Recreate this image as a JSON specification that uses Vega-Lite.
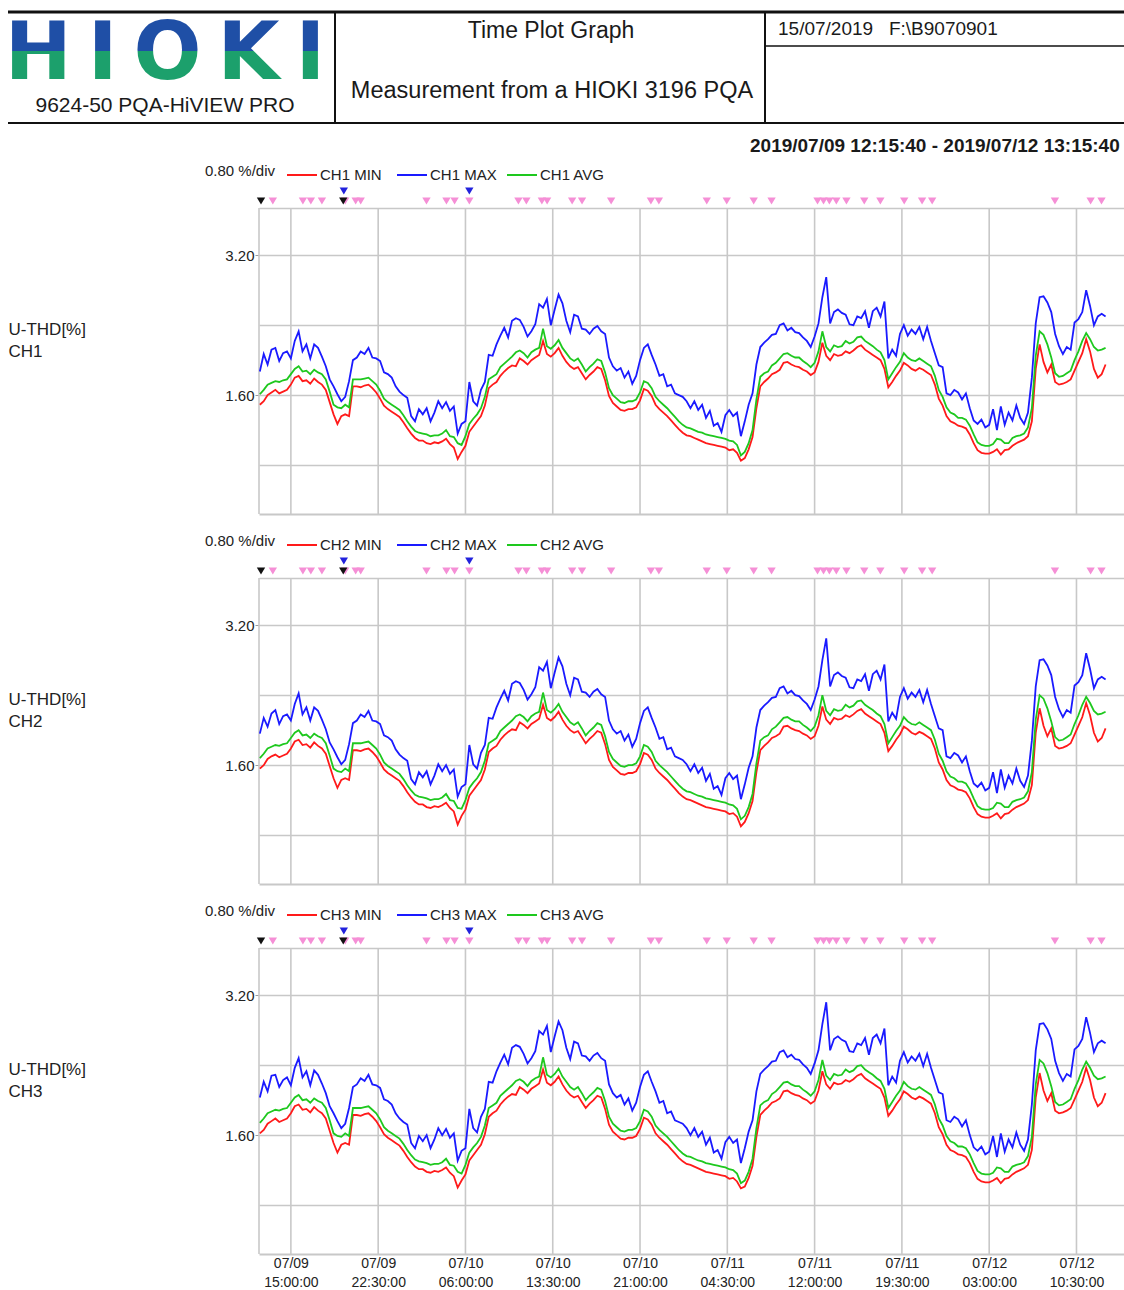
{
"$schema": "https://vega.github.io/schema/vega-lite/v6.json",
"padding": {"left": 4, "top": 0, "right": 0, "bottom": 0},
"background": "white",
"config": {"view": {"stroke": null}, "font": "Liberation Sans",
  "axis": {"labelFont": "Liberation Sans", "titleFont": "Liberation Sans"},
  "legend": {"labelFont": "Liberation Sans", "titleFont": "Liberation Sans"}},
"datasets": {
"grid": [{"t":"2019-07-09T12:15:40Z"},{"t":"2019-07-09T15:00Z"},{"t":"2019-07-09T22:30Z"},{"t":"2019-07-10T06:00Z"},{"t":"2019-07-10T13:30Z"},{"t":"2019-07-10T21:00Z"},{"t":"2019-07-11T04:30Z"},{"t":"2019-07-11T12:00Z"},{"t":"2019-07-11T19:30Z"},{"t":"2019-07-12T03:00Z"},{"t":"2019-07-12T10:30Z"}],
"ev": [
{"t":"2019-07-09T12:26Z","lane":"main","kind":"black"},{"t":"2019-07-09T13:27Z","lane":"main","kind":"pink"},{"t":"2019-07-09T16:02Z","lane":"main","kind":"pink"},{"t":"2019-07-09T16:43Z","lane":"main","kind":"pink"},{"t":"2019-07-09T17:40Z","lane":"main","kind":"pink"},{"t":"2019-07-09T19:40Z","lane":"main","kind":"pink"},{"t":"2019-07-09T19:30Z","lane":"main","kind":"black"},{"t":"2019-07-09T19:33Z","lane":"upper","kind":"blue"},{"t":"2019-07-09T20:34Z","lane":"main","kind":"pink"},{"t":"2019-07-09T21:00Z","lane":"main","kind":"pink"},
{"t":"2019-07-10T02:39Z","lane":"main","kind":"pink"},{"t":"2019-07-10T04:22Z","lane":"main","kind":"pink"},{"t":"2019-07-10T05:04Z","lane":"main","kind":"pink"},{"t":"2019-07-10T06:20Z","lane":"main","kind":"pink"},{"t":"2019-07-10T06:20Z","lane":"upper","kind":"blue"},{"t":"2019-07-10T10:33Z","lane":"main","kind":"pink"},{"t":"2019-07-10T11:14Z","lane":"main","kind":"pink"},{"t":"2019-07-10T12:34Z","lane":"main","kind":"pink"},{"t":"2019-07-10T13:01Z","lane":"main","kind":"pink"},{"t":"2019-07-10T15:10Z","lane":"main","kind":"pink"},{"t":"2019-07-10T16:01Z","lane":"main","kind":"pink"},{"t":"2019-07-10T18:31Z","lane":"main","kind":"pink"},{"t":"2019-07-10T21:56Z","lane":"main","kind":"pink"},{"t":"2019-07-10T22:37Z","lane":"main","kind":"pink"},
{"t":"2019-07-11T02:44Z","lane":"main","kind":"pink"},{"t":"2019-07-11T04:27Z","lane":"main","kind":"pink"},{"t":"2019-07-11T06:46Z","lane":"main","kind":"pink"},{"t":"2019-07-11T08:18Z","lane":"main","kind":"pink"},{"t":"2019-07-11T12:15Z","lane":"main","kind":"pink"},{"t":"2019-07-11T12:46Z","lane":"main","kind":"pink"},{"t":"2019-07-11T13:16Z","lane":"main","kind":"pink"},{"t":"2019-07-11T13:52Z","lane":"main","kind":"pink"},{"t":"2019-07-11T14:44Z","lane":"main","kind":"pink"},{"t":"2019-07-11T16:16Z","lane":"main","kind":"pink"},{"t":"2019-07-11T17:39Z","lane":"main","kind":"pink"},{"t":"2019-07-11T19:42Z","lane":"main","kind":"pink"},{"t":"2019-07-11T21:14Z","lane":"main","kind":"pink"},{"t":"2019-07-11T22:06Z","lane":"main","kind":"pink"},
{"t":"2019-07-12T08:39Z","lane":"main","kind":"pink"},{"t":"2019-07-12T11:43Z","lane":"main","kind":"pink"},{"t":"2019-07-12T12:39Z","lane":"main","kind":"pink"}],
"pq": [
{"t":"2019-07-09T12:20Z","n1":1.49,"x1":1.87,"a1":1.61,"n2":1.56,"x2":1.96,"a2":1.68,"n3":1.62,"x3":2.03,"a3":1.74},
{"t":"2019-07-09T12:40Z","n1":1.53,"x1":2.07,"a1":1.66,"n2":1.60,"x2":2.14,"a2":1.73,"n3":1.66,"x3":2.21,"a3":1.79},
{"t":"2019-07-09T13:00Z","n1":1.60,"x1":1.95,"a1":1.72,"n2":1.67,"x2":2.04,"a2":1.79,"n3":1.73,"x3":2.10,"a3":1.85},
{"t":"2019-07-09T13:20Z","n1":1.63,"x1":2.12,"a1":1.74,"n2":1.70,"x2":2.19,"a2":1.81,"n3":1.76,"x3":2.28,"a3":1.87},
{"t":"2019-07-09T13:40Z","n1":1.66,"x1":2.14,"a1":1.76,"n2":1.72,"x2":2.23,"a2":1.83,"n3":1.79,"x3":2.29,"a3":1.89},
{"t":"2019-07-09T14:00Z","n1":1.62,"x1":1.99,"a1":1.75,"n2":1.69,"x2":2.07,"a2":1.82,"n3":1.75,"x3":2.15,"a3":1.88},
{"t":"2019-07-09T14:20Z","n1":1.64,"x1":2.08,"a1":1.77,"n2":1.71,"x2":2.16,"a2":1.84,"n3":1.77,"x3":2.23,"a3":1.90},
{"t":"2019-07-09T14:40Z","n1":1.66,"x1":2.10,"a1":1.78,"n2":1.73,"x2":2.18,"a2":1.85,"n3":1.79,"x3":2.26,"a3":1.91},
{"t":"2019-07-09T15:00Z","n1":1.72,"x1":2.02,"a1":1.84,"n2":1.79,"x2":2.11,"a2":1.91,"n3":1.85,"x3":2.17,"a3":1.97},
{"t":"2019-07-09T15:20Z","n1":1.80,"x1":2.22,"a1":1.90,"n2":1.87,"x2":2.30,"a2":1.97,"n3":1.93,"x3":2.37,"a3":2.03},
{"t":"2019-07-09T15:40Z","n1":1.82,"x1":2.33,"a1":1.93,"n2":1.89,"x2":2.42,"a2":2.00,"n3":1.95,"x3":2.48,"a3":2.06},
{"t":"2019-07-09T16:00Z","n1":1.76,"x1":2.10,"a1":1.87,"n2":1.83,"x2":2.18,"a2":1.94,"n3":1.89,"x3":2.26,"a3":2.00},
{"t":"2019-07-09T16:20Z","n1":1.77,"x1":2.18,"a1":1.88,"n2":1.84,"x2":2.26,"a2":1.95,"n3":1.90,"x3":2.33,"a3":2.01},
{"t":"2019-07-09T16:40Z","n1":1.73,"x1":2.02,"a1":1.84,"n2":1.80,"x2":2.11,"a2":1.91,"n3":1.86,"x3":2.17,"a3":1.97},
{"t":"2019-07-09T17:00Z","n1":1.79,"x1":2.18,"a1":1.89,"n2":1.86,"x2":2.26,"a2":1.96,"n3":1.92,"x3":2.34,"a3":2.02},
{"t":"2019-07-09T17:20Z","n1":1.75,"x1":2.14,"a1":1.86,"n2":1.82,"x2":2.22,"a2":1.93,"n3":1.88,"x3":2.29,"a3":1.99},
{"t":"2019-07-09T17:40Z","n1":1.72,"x1":2.04,"a1":1.84,"n2":1.79,"x2":2.12,"a2":1.91,"n3":1.85,"x3":2.19,"a3":1.97},
{"t":"2019-07-09T18:00Z","n1":1.66,"x1":1.93,"a1":1.78,"n2":1.73,"x2":2.01,"a2":1.85,"n3":1.79,"x3":2.08,"a3":1.91},
{"t":"2019-07-09T18:20Z","n1":1.52,"x1":1.78,"a1":1.64,"n2":1.59,"x2":1.86,"a2":1.71,"n3":1.65,"x3":1.93,"a3":1.77},
{"t":"2019-07-09T18:40Z","n1":1.38,"x1":1.70,"a1":1.49,"n2":1.45,"x2":1.78,"a2":1.56,"n3":1.51,"x3":1.85,"a3":1.62},
{"t":"2019-07-09T19:00Z","n1":1.27,"x1":1.61,"a1":1.46,"n2":1.34,"x2":1.69,"a2":1.53,"n3":1.40,"x3":1.76,"a3":1.59},
{"t":"2019-07-09T19:20Z","n1":1.36,"x1":1.53,"a1":1.45,"n2":1.43,"x2":1.61,"a2":1.52,"n3":1.49,"x3":1.68,"a3":1.58},
{"t":"2019-07-09T19:40Z","n1":1.38,"x1":1.58,"a1":1.49,"n2":1.45,"x2":1.66,"a2":1.56,"n3":1.51,"x3":1.73,"a3":1.62},
{"t":"2019-07-09T20:00Z","n1":1.36,"x1":1.76,"a1":1.46,"n2":1.43,"x2":1.84,"a2":1.53,"n3":1.49,"x3":1.91,"a3":1.59},
{"t":"2019-07-09T20:20Z","n1":1.70,"x1":2.00,"a1":1.78,"n2":1.77,"x2":2.08,"a2":1.85,"n3":1.83,"x3":2.15,"a3":1.91},
{"t":"2019-07-09T20:40Z","n1":1.70,"x1":2.03,"a1":1.78,"n2":1.77,"x2":2.11,"a2":1.85,"n3":1.83,"x3":2.18,"a3":1.91},
{"t":"2019-07-09T21:00Z","n1":1.69,"x1":2.10,"a1":1.78,"n2":1.76,"x2":2.18,"a2":1.85,"n3":1.82,"x3":2.25,"a3":1.91},
{"t":"2019-07-09T21:20Z","n1":1.71,"x1":2.07,"a1":1.79,"n2":1.78,"x2":2.15,"a2":1.86,"n3":1.84,"x3":2.22,"a3":1.92},
{"t":"2019-07-09T21:40Z","n1":1.72,"x1":2.14,"a1":1.80,"n2":1.79,"x2":2.22,"a2":1.87,"n3":1.85,"x3":2.29,"a3":1.93},
{"t":"2019-07-09T22:00Z","n1":1.68,"x1":2.03,"a1":1.76,"n2":1.75,"x2":2.11,"a2":1.83,"n3":1.81,"x3":2.18,"a3":1.89},
{"t":"2019-07-09T22:20Z","n1":1.63,"x1":2.02,"a1":1.72,"n2":1.70,"x2":2.10,"a2":1.79,"n3":1.76,"x3":2.17,"a3":1.85},
{"t":"2019-07-09T22:40Z","n1":1.56,"x1":1.99,"a1":1.65,"n2":1.63,"x2":2.07,"a2":1.72,"n3":1.69,"x3":2.14,"a3":1.78},
{"t":"2019-07-09T23:00Z","n1":1.48,"x1":1.86,"a1":1.56,"n2":1.55,"x2":1.94,"a2":1.63,"n3":1.61,"x3":2.01,"a3":1.69},
{"t":"2019-07-09T23:20Z","n1":1.44,"x1":1.84,"a1":1.52,"n2":1.51,"x2":1.92,"a2":1.59,"n3":1.57,"x3":1.99,"a3":1.65},
{"t":"2019-07-09T23:40Z","n1":1.41,"x1":1.80,"a1":1.49,"n2":1.48,"x2":1.88,"a2":1.56,"n3":1.54,"x3":1.95,"a3":1.62},
{"t":"2019-07-10T00:00Z","n1":1.38,"x1":1.70,"a1":1.46,"n2":1.45,"x2":1.78,"a2":1.53,"n3":1.51,"x3":1.85,"a3":1.59},
{"t":"2019-07-10T00:20Z","n1":1.35,"x1":1.64,"a1":1.43,"n2":1.42,"x2":1.72,"a2":1.50,"n3":1.48,"x3":1.79,"a3":1.56},
{"t":"2019-07-10T00:40Z","n1":1.29,"x1":1.60,"a1":1.37,"n2":1.36,"x2":1.68,"a2":1.44,"n3":1.42,"x3":1.75,"a3":1.50},
{"t":"2019-07-10T01:00Z","n1":1.22,"x1":1.57,"a1":1.30,"n2":1.29,"x2":1.65,"a2":1.37,"n3":1.35,"x3":1.72,"a3":1.43},
{"t":"2019-07-10T01:20Z","n1":1.16,"x1":1.36,"a1":1.24,"n2":1.23,"x2":1.44,"a2":1.31,"n3":1.29,"x3":1.51,"a3":1.37},
{"t":"2019-07-10T01:40Z","n1":1.11,"x1":1.30,"a1":1.19,"n2":1.18,"x2":1.38,"a2":1.26,"n3":1.24,"x3":1.45,"a3":1.32},
{"t":"2019-07-10T02:00Z","n1":1.08,"x1":1.44,"a1":1.17,"n2":1.15,"x2":1.52,"a2":1.24,"n3":1.21,"x3":1.59,"a3":1.30},
{"t":"2019-07-10T02:20Z","n1":1.08,"x1":1.38,"a1":1.16,"n2":1.15,"x2":1.46,"a2":1.23,"n3":1.21,"x3":1.53,"a3":1.29},
{"t":"2019-07-10T02:40Z","n1":1.05,"x1":1.45,"a1":1.15,"n2":1.12,"x2":1.53,"a2":1.22,"n3":1.18,"x3":1.60,"a3":1.28},
{"t":"2019-07-10T03:00Z","n1":1.04,"x1":1.30,"a1":1.13,"n2":1.11,"x2":1.38,"a2":1.20,"n3":1.17,"x3":1.45,"a3":1.26},
{"t":"2019-07-10T03:20Z","n1":1.06,"x1":1.40,"a1":1.14,"n2":1.13,"x2":1.48,"a2":1.21,"n3":1.19,"x3":1.55,"a3":1.27},
{"t":"2019-07-10T03:40Z","n1":1.05,"x1":1.53,"a1":1.14,"n2":1.12,"x2":1.61,"a2":1.21,"n3":1.18,"x3":1.68,"a3":1.27},
{"t":"2019-07-10T04:00Z","n1":1.07,"x1":1.45,"a1":1.16,"n2":1.14,"x2":1.53,"a2":1.23,"n3":1.20,"x3":1.60,"a3":1.29},
{"t":"2019-07-10T04:20Z","n1":1.10,"x1":1.52,"a1":1.20,"n2":1.17,"x2":1.60,"a2":1.27,"n3":1.23,"x3":1.67,"a3":1.33},
{"t":"2019-07-10T04:40Z","n1":1.04,"x1":1.42,"a1":1.13,"n2":1.11,"x2":1.50,"a2":1.20,"n3":1.17,"x3":1.57,"a3":1.26},
{"t":"2019-07-10T05:00Z","n1":1.00,"x1":1.47,"a1":1.12,"n2":1.07,"x2":1.55,"a2":1.19,"n3":1.13,"x3":1.62,"a3":1.25},
{"t":"2019-07-10T05:20Z","n1":0.87,"x1":1.16,"a1":1.05,"n2":0.92,"x2":1.24,"a2":1.11,"n3":1.00,"x3":1.31,"a3":1.18},
{"t":"2019-07-10T05:40Z","n1":0.95,"x1":1.27,"a1":1.03,"n2":1.02,"x2":1.35,"a2":1.10,"n3":1.08,"x3":1.42,"a3":1.16},
{"t":"2019-07-10T06:00Z","n1":1.02,"x1":1.30,"a1":1.13,"n2":1.09,"x2":1.38,"a2":1.20,"n3":1.15,"x3":1.45,"a3":1.26},
{"t":"2019-07-10T06:20Z","n1":1.18,"x1":1.75,"a1":1.27,"n2":1.25,"x2":1.83,"a2":1.34,"n3":1.31,"x3":1.90,"a3":1.40},
{"t":"2019-07-10T06:40Z","n1":1.24,"x1":1.53,"a1":1.33,"n2":1.31,"x2":1.61,"a2":1.40,"n3":1.37,"x3":1.68,"a3":1.46},
{"t":"2019-07-10T07:00Z","n1":1.30,"x1":1.48,"a1":1.38,"n2":1.37,"x2":1.56,"a2":1.45,"n3":1.43,"x3":1.63,"a3":1.51},
{"t":"2019-07-10T07:20Z","n1":1.36,"x1":1.66,"a1":1.45,"n2":1.43,"x2":1.74,"a2":1.52,"n3":1.49,"x3":1.81,"a3":1.58},
{"t":"2019-07-10T07:40Z","n1":1.48,"x1":1.75,"a1":1.58,"n2":1.55,"x2":1.83,"a2":1.65,"n3":1.61,"x3":1.90,"a3":1.71},
{"t":"2019-07-10T08:00Z","n1":1.68,"x1":2.06,"a1":1.78,"n2":1.75,"x2":2.14,"a2":1.85,"n3":1.81,"x3":2.21,"a3":1.91},
{"t":"2019-07-10T08:20Z","n1":1.72,"x1":2.05,"a1":1.81,"n2":1.79,"x2":2.13,"a2":1.88,"n3":1.85,"x3":2.20,"a3":1.94},
{"t":"2019-07-10T08:40Z","n1":1.75,"x1":2.18,"a1":1.84,"n2":1.82,"x2":2.26,"a2":1.91,"n3":1.88,"x3":2.33,"a3":1.97},
{"t":"2019-07-10T09:00Z","n1":1.82,"x1":2.28,"a1":1.92,"n2":1.89,"x2":2.36,"a2":1.99,"n3":1.95,"x3":2.43,"a3":2.05},
{"t":"2019-07-10T09:20Z","n1":1.87,"x1":2.37,"a1":1.96,"n2":1.94,"x2":2.45,"a2":2.03,"n3":2.00,"x3":2.52,"a3":2.09},
{"t":"2019-07-10T09:40Z","n1":1.91,"x1":2.26,"a1":2.00,"n2":1.98,"x2":2.34,"a2":2.07,"n3":2.04,"x3":2.41,"a3":2.13},
{"t":"2019-07-10T10:00Z","n1":1.94,"x1":2.45,"a1":2.04,"n2":2.01,"x2":2.53,"a2":2.11,"n3":2.07,"x3":2.60,"a3":2.17},
{"t":"2019-07-10T10:20Z","n1":1.93,"x1":2.48,"a1":2.09,"n2":2.00,"x2":2.56,"a2":2.16,"n3":2.06,"x3":2.63,"a3":2.22},
{"t":"2019-07-10T10:40Z","n1":2.02,"x1":2.46,"a1":2.11,"n2":2.09,"x2":2.54,"a2":2.18,"n3":2.15,"x3":2.61,"a3":2.24},
{"t":"2019-07-10T11:00Z","n1":1.99,"x1":2.38,"a1":2.08,"n2":2.06,"x2":2.46,"a2":2.15,"n3":2.12,"x3":2.53,"a3":2.21},
{"t":"2019-07-10T11:20Z","n1":1.95,"x1":2.27,"a1":2.03,"n2":2.02,"x2":2.35,"a2":2.10,"n3":2.08,"x3":2.42,"a3":2.16},
{"t":"2019-07-10T11:40Z","n1":2.00,"x1":2.33,"a1":2.09,"n2":2.07,"x2":2.41,"a2":2.16,"n3":2.13,"x3":2.48,"a3":2.22},
{"t":"2019-07-10T12:00Z","n1":2.03,"x1":2.41,"a1":2.12,"n2":2.10,"x2":2.49,"a2":2.19,"n3":2.16,"x3":2.56,"a3":2.25},
{"t":"2019-07-10T12:20Z","n1":2.06,"x1":2.64,"a1":2.14,"n2":2.13,"x2":2.72,"a2":2.21,"n3":2.19,"x3":2.79,"a3":2.27},
{"t":"2019-07-10T12:40Z","n1":2.22,"x1":2.60,"a1":2.36,"n2":2.29,"x2":2.68,"a2":2.43,"n3":2.35,"x3":2.75,"a3":2.49},
{"t":"2019-07-10T13:00Z","n1":2.07,"x1":2.70,"a1":2.16,"n2":2.14,"x2":2.78,"a2":2.23,"n3":2.20,"x3":2.85,"a3":2.29},
{"t":"2019-07-10T13:20Z","n1":2.04,"x1":2.40,"a1":2.13,"n2":2.11,"x2":2.48,"a2":2.20,"n3":2.17,"x3":2.55,"a3":2.26},
{"t":"2019-07-10T13:40Z","n1":2.08,"x1":2.58,"a1":2.17,"n2":2.15,"x2":2.66,"a2":2.24,"n3":2.21,"x3":2.73,"a3":2.30},
{"t":"2019-07-10T14:00Z","n1":2.14,"x1":2.75,"a1":2.23,"n2":2.21,"x2":2.83,"a2":2.30,"n3":2.27,"x3":2.90,"a3":2.36},
{"t":"2019-07-10T14:20Z","n1":2.05,"x1":2.65,"a1":2.14,"n2":2.12,"x2":2.73,"a2":2.21,"n3":2.18,"x3":2.80,"a3":2.27},
{"t":"2019-07-10T14:40Z","n1":1.98,"x1":2.45,"a1":2.08,"n2":2.05,"x2":2.53,"a2":2.15,"n3":2.11,"x3":2.60,"a3":2.21},
{"t":"2019-07-10T15:00Z","n1":1.93,"x1":2.32,"a1":2.02,"n2":2.00,"x2":2.40,"a2":2.09,"n3":2.06,"x3":2.47,"a3":2.15},
{"t":"2019-07-10T15:20Z","n1":1.90,"x1":2.52,"a1":1.99,"n2":1.97,"x2":2.60,"a2":2.06,"n3":2.03,"x3":2.67,"a3":2.12},
{"t":"2019-07-10T15:40Z","n1":1.92,"x1":2.50,"a1":2.02,"n2":1.99,"x2":2.58,"a2":2.09,"n3":2.05,"x3":2.65,"a3":2.15},
{"t":"2019-07-10T16:00Z","n1":1.85,"x1":2.36,"a1":1.95,"n2":1.92,"x2":2.44,"a2":2.02,"n3":1.98,"x3":2.51,"a3":2.08},
{"t":"2019-07-10T16:20Z","n1":1.78,"x1":2.35,"a1":1.87,"n2":1.85,"x2":2.43,"a2":1.94,"n3":1.91,"x3":2.50,"a3":2.00},
{"t":"2019-07-10T16:40Z","n1":1.83,"x1":2.30,"a1":1.92,"n2":1.90,"x2":2.38,"a2":1.99,"n3":1.96,"x3":2.45,"a3":2.05},
{"t":"2019-07-10T17:00Z","n1":1.87,"x1":2.36,"a1":1.96,"n2":1.94,"x2":2.44,"a2":2.03,"n3":2.00,"x3":2.51,"a3":2.09},
{"t":"2019-07-10T17:20Z","n1":1.92,"x1":2.39,"a1":2.01,"n2":1.99,"x2":2.47,"a2":2.08,"n3":2.05,"x3":2.54,"a3":2.14},
{"t":"2019-07-10T17:40Z","n1":1.90,"x1":2.33,"a1":1.99,"n2":1.97,"x2":2.41,"a2":2.06,"n3":2.03,"x3":2.48,"a3":2.12},
{"t":"2019-07-10T18:00Z","n1":1.77,"x1":2.30,"a1":1.86,"n2":1.84,"x2":2.38,"a2":1.93,"n3":1.90,"x3":2.45,"a3":1.99},
{"t":"2019-07-10T18:20Z","n1":1.59,"x1":2.03,"a1":1.68,"n2":1.66,"x2":2.11,"a2":1.75,"n3":1.72,"x3":2.18,"a3":1.81},
{"t":"2019-07-10T18:40Z","n1":1.51,"x1":1.93,"a1":1.60,"n2":1.58,"x2":2.01,"a2":1.67,"n3":1.64,"x3":2.08,"a3":1.73},
{"t":"2019-07-10T19:00Z","n1":1.47,"x1":1.88,"a1":1.56,"n2":1.54,"x2":1.96,"a2":1.63,"n3":1.60,"x3":2.03,"a3":1.69},
{"t":"2019-07-10T19:20Z","n1":1.43,"x1":1.91,"a1":1.52,"n2":1.50,"x2":1.99,"a2":1.59,"n3":1.56,"x3":2.06,"a3":1.65},
{"t":"2019-07-10T19:40Z","n1":1.42,"x1":1.80,"a1":1.51,"n2":1.49,"x2":1.88,"a2":1.58,"n3":1.55,"x3":1.95,"a3":1.64},
{"t":"2019-07-10T20:00Z","n1":1.44,"x1":1.87,"a1":1.53,"n2":1.51,"x2":1.95,"a2":1.60,"n3":1.57,"x3":2.02,"a3":1.66},
{"t":"2019-07-10T20:20Z","n1":1.44,"x1":1.73,"a1":1.53,"n2":1.51,"x2":1.81,"a2":1.60,"n3":1.57,"x3":1.88,"a3":1.66},
{"t":"2019-07-10T20:40Z","n1":1.46,"x1":1.82,"a1":1.55,"n2":1.53,"x2":1.90,"a2":1.62,"n3":1.59,"x3":1.97,"a3":1.68},
{"t":"2019-07-10T21:00Z","n1":1.54,"x1":2.00,"a1":1.63,"n2":1.61,"x2":2.08,"a2":1.70,"n3":1.67,"x3":2.15,"a3":1.76},
{"t":"2019-07-10T21:20Z","n1":1.67,"x1":2.14,"a1":1.76,"n2":1.74,"x2":2.22,"a2":1.83,"n3":1.80,"x3":2.29,"a3":1.89},
{"t":"2019-07-10T21:40Z","n1":1.65,"x1":2.18,"a1":1.74,"n2":1.72,"x2":2.26,"a2":1.81,"n3":1.78,"x3":2.33,"a3":1.87},
{"t":"2019-07-10T22:00Z","n1":1.59,"x1":2.06,"a1":1.68,"n2":1.66,"x2":2.14,"a2":1.75,"n3":1.72,"x3":2.21,"a3":1.81},
{"t":"2019-07-10T22:20Z","n1":1.49,"x1":1.95,"a1":1.58,"n2":1.56,"x2":2.03,"a2":1.65,"n3":1.62,"x3":2.10,"a3":1.71},
{"t":"2019-07-10T22:40Z","n1":1.44,"x1":1.82,"a1":1.53,"n2":1.51,"x2":1.90,"a2":1.60,"n3":1.57,"x3":1.97,"a3":1.66},
{"t":"2019-07-10T23:00Z","n1":1.40,"x1":1.84,"a1":1.49,"n2":1.47,"x2":1.92,"a2":1.56,"n3":1.53,"x3":1.99,"a3":1.62},
{"t":"2019-07-10T23:20Z","n1":1.36,"x1":1.70,"a1":1.45,"n2":1.43,"x2":1.78,"a2":1.52,"n3":1.49,"x3":1.85,"a3":1.58},
{"t":"2019-07-10T23:40Z","n1":1.31,"x1":1.72,"a1":1.40,"n2":1.38,"x2":1.80,"a2":1.47,"n3":1.44,"x3":1.87,"a3":1.53},
{"t":"2019-07-11T00:00Z","n1":1.26,"x1":1.62,"a1":1.35,"n2":1.33,"x2":1.70,"a2":1.42,"n3":1.39,"x3":1.77,"a3":1.48},
{"t":"2019-07-11T00:20Z","n1":1.21,"x1":1.60,"a1":1.30,"n2":1.28,"x2":1.68,"a2":1.37,"n3":1.34,"x3":1.75,"a3":1.43},
{"t":"2019-07-11T00:40Z","n1":1.17,"x1":1.58,"a1":1.26,"n2":1.24,"x2":1.66,"a2":1.33,"n3":1.30,"x3":1.73,"a3":1.39},
{"t":"2019-07-11T01:00Z","n1":1.14,"x1":1.53,"a1":1.23,"n2":1.21,"x2":1.61,"a2":1.30,"n3":1.27,"x3":1.68,"a3":1.36},
{"t":"2019-07-11T01:20Z","n1":1.13,"x1":1.45,"a1":1.22,"n2":1.20,"x2":1.53,"a2":1.29,"n3":1.26,"x3":1.60,"a3":1.35},
{"t":"2019-07-11T01:40Z","n1":1.11,"x1":1.53,"a1":1.20,"n2":1.18,"x2":1.61,"a2":1.27,"n3":1.24,"x3":1.68,"a3":1.33},
{"t":"2019-07-11T02:00Z","n1":1.09,"x1":1.43,"a1":1.18,"n2":1.16,"x2":1.51,"a2":1.25,"n3":1.22,"x3":1.58,"a3":1.31},
{"t":"2019-07-11T02:20Z","n1":1.07,"x1":1.49,"a1":1.17,"n2":1.14,"x2":1.57,"a2":1.24,"n3":1.20,"x3":1.64,"a3":1.30},
{"t":"2019-07-11T02:40Z","n1":1.05,"x1":1.34,"a1":1.15,"n2":1.12,"x2":1.42,"a2":1.22,"n3":1.18,"x3":1.49,"a3":1.28},
{"t":"2019-07-11T03:00Z","n1":1.04,"x1":1.42,"a1":1.14,"n2":1.11,"x2":1.50,"a2":1.21,"n3":1.17,"x3":1.57,"a3":1.27},
{"t":"2019-07-11T03:20Z","n1":1.03,"x1":1.25,"a1":1.13,"n2":1.10,"x2":1.33,"a2":1.20,"n3":1.16,"x3":1.40,"a3":1.26},
{"t":"2019-07-11T03:40Z","n1":1.02,"x1":1.28,"a1":1.12,"n2":1.09,"x2":1.36,"a2":1.19,"n3":1.15,"x3":1.43,"a3":1.25},
{"t":"2019-07-11T04:00Z","n1":1.01,"x1":1.18,"a1":1.11,"n2":1.08,"x2":1.26,"a2":1.18,"n3":1.14,"x3":1.33,"a3":1.24},
{"t":"2019-07-11T04:20Z","n1":1.00,"x1":1.37,"a1":1.10,"n2":1.07,"x2":1.45,"a2":1.17,"n3":1.13,"x3":1.52,"a3":1.23},
{"t":"2019-07-11T04:40Z","n1":0.97,"x1":1.43,"a1":1.08,"n2":1.04,"x2":1.51,"a2":1.15,"n3":1.10,"x3":1.58,"a3":1.21},
{"t":"2019-07-11T05:00Z","n1":0.98,"x1":1.36,"a1":1.07,"n2":1.05,"x2":1.44,"a2":1.14,"n3":1.11,"x3":1.51,"a3":1.20},
{"t":"2019-07-11T05:20Z","n1":0.94,"x1":1.40,"a1":1.03,"n2":1.01,"x2":1.48,"a2":1.10,"n3":1.07,"x3":1.55,"a3":1.16},
{"t":"2019-07-11T05:40Z","n1":0.85,"x1":1.13,"a1":0.91,"n2":0.90,"x2":1.21,"a2":0.98,"n3":0.99,"x3":1.28,"a3":1.05},
{"t":"2019-07-11T06:00Z","n1":0.88,"x1":1.30,"a1":0.95,"n2":0.95,"x2":1.38,"a2":1.02,"n3":1.01,"x3":1.45,"a3":1.08},
{"t":"2019-07-11T06:20Z","n1":0.98,"x1":1.49,"a1":1.05,"n2":1.05,"x2":1.57,"a2":1.12,"n3":1.11,"x3":1.64,"a3":1.18},
{"t":"2019-07-11T06:40Z","n1":1.12,"x1":1.62,"a1":1.20,"n2":1.19,"x2":1.70,"a2":1.27,"n3":1.25,"x3":1.77,"a3":1.33},
{"t":"2019-07-11T07:00Z","n1":1.45,"x1":1.95,"a1":1.55,"n2":1.52,"x2":2.03,"a2":1.62,"n3":1.58,"x3":2.10,"a3":1.68},
{"t":"2019-07-11T07:20Z","n1":1.70,"x1":2.15,"a1":1.81,"n2":1.77,"x2":2.23,"a2":1.88,"n3":1.83,"x3":2.30,"a3":1.94},
{"t":"2019-07-11T07:40Z","n1":1.75,"x1":2.20,"a1":1.85,"n2":1.82,"x2":2.28,"a2":1.92,"n3":1.88,"x3":2.35,"a3":1.98},
{"t":"2019-07-11T08:00Z","n1":1.79,"x1":2.24,"a1":1.87,"n2":1.86,"x2":2.32,"a2":1.94,"n3":1.92,"x3":2.39,"a3":2.00},
{"t":"2019-07-11T08:20Z","n1":1.84,"x1":2.29,"a1":1.94,"n2":1.91,"x2":2.37,"a2":2.01,"n3":1.97,"x3":2.44,"a3":2.07},
{"t":"2019-07-11T08:40Z","n1":1.86,"x1":2.30,"a1":1.97,"n2":1.93,"x2":2.38,"a2":2.04,"n3":1.99,"x3":2.45,"a3":2.10},
{"t":"2019-07-11T09:00Z","n1":1.89,"x1":2.40,"a1":2.02,"n2":1.96,"x2":2.48,"a2":2.09,"n3":2.02,"x3":2.55,"a3":2.15},
{"t":"2019-07-11T09:20Z","n1":1.97,"x1":2.42,"a1":2.07,"n2":2.04,"x2":2.50,"a2":2.14,"n3":2.10,"x3":2.57,"a3":2.20},
{"t":"2019-07-11T09:40Z","n1":1.98,"x1":2.34,"a1":2.08,"n2":2.05,"x2":2.42,"a2":2.15,"n3":2.11,"x3":2.49,"a3":2.21},
{"t":"2019-07-11T10:00Z","n1":1.95,"x1":2.37,"a1":2.05,"n2":2.02,"x2":2.45,"a2":2.12,"n3":2.08,"x3":2.52,"a3":2.18},
{"t":"2019-07-11T10:20Z","n1":1.93,"x1":2.32,"a1":2.03,"n2":2.00,"x2":2.40,"a2":2.10,"n3":2.06,"x3":2.47,"a3":2.16},
{"t":"2019-07-11T10:40Z","n1":1.92,"x1":2.31,"a1":2.03,"n2":1.99,"x2":2.39,"a2":2.10,"n3":2.05,"x3":2.46,"a3":2.16},
{"t":"2019-07-11T11:00Z","n1":1.89,"x1":2.26,"a1":1.99,"n2":1.96,"x2":2.34,"a2":2.06,"n3":2.02,"x3":2.41,"a3":2.12},
{"t":"2019-07-11T11:20Z","n1":1.87,"x1":2.22,"a1":1.96,"n2":1.94,"x2":2.30,"a2":2.03,"n3":2.00,"x3":2.37,"a3":2.09},
{"t":"2019-07-11T11:40Z","n1":1.83,"x1":2.15,"a1":1.92,"n2":1.90,"x2":2.23,"a2":1.99,"n3":1.96,"x3":2.30,"a3":2.05},
{"t":"2019-07-11T12:00Z","n1":1.86,"x1":2.27,"a1":1.97,"n2":1.93,"x2":2.35,"a2":2.04,"n3":1.99,"x3":2.42,"a3":2.10},
{"t":"2019-07-11T12:20Z","n1":1.98,"x1":2.42,"a1":2.10,"n2":2.05,"x2":2.50,"a2":2.17,"n3":2.11,"x3":2.57,"a3":2.23},
{"t":"2019-07-11T12:40Z","n1":2.20,"x1":2.72,"a1":2.33,"n2":2.27,"x2":2.80,"a2":2.40,"n3":2.33,"x3":2.87,"a3":2.46},
{"t":"2019-07-11T13:00Z","n1":2.05,"x1":2.95,"a1":2.15,"n2":2.12,"x2":3.05,"a2":2.22,"n3":2.18,"x3":3.12,"a3":2.28},
{"t":"2019-07-11T13:20Z","n1":2.00,"x1":2.42,"a1":2.10,"n2":2.07,"x2":2.50,"a2":2.17,"n3":2.13,"x3":2.57,"a3":2.23},
{"t":"2019-07-11T13:40Z","n1":2.07,"x1":2.55,"a1":2.17,"n2":2.14,"x2":2.63,"a2":2.24,"n3":2.20,"x3":2.70,"a3":2.30},
{"t":"2019-07-11T14:00Z","n1":2.05,"x1":2.58,"a1":2.15,"n2":2.12,"x2":2.66,"a2":2.22,"n3":2.18,"x3":2.73,"a3":2.28},
{"t":"2019-07-11T14:20Z","n1":2.06,"x1":2.54,"a1":2.16,"n2":2.13,"x2":2.62,"a2":2.23,"n3":2.19,"x3":2.69,"a3":2.29},
{"t":"2019-07-11T14:40Z","n1":2.10,"x1":2.52,"a1":2.22,"n2":2.17,"x2":2.60,"a2":2.29,"n3":2.23,"x3":2.67,"a3":2.35},
{"t":"2019-07-11T15:00Z","n1":2.08,"x1":2.41,"a1":2.19,"n2":2.15,"x2":2.49,"a2":2.26,"n3":2.21,"x3":2.56,"a3":2.32},
{"t":"2019-07-11T15:20Z","n1":2.11,"x1":2.40,"a1":2.21,"n2":2.18,"x2":2.48,"a2":2.28,"n3":2.24,"x3":2.55,"a3":2.34},
{"t":"2019-07-11T15:40Z","n1":2.15,"x1":2.50,"a1":2.26,"n2":2.22,"x2":2.58,"a2":2.33,"n3":2.28,"x3":2.65,"a3":2.39},
{"t":"2019-07-11T16:00Z","n1":2.17,"x1":2.48,"a1":2.27,"n2":2.24,"x2":2.56,"a2":2.34,"n3":2.30,"x3":2.63,"a3":2.40},
{"t":"2019-07-11T16:20Z","n1":2.12,"x1":2.56,"a1":2.22,"n2":2.19,"x2":2.64,"a2":2.29,"n3":2.25,"x3":2.71,"a3":2.35},
{"t":"2019-07-11T16:40Z","n1":2.09,"x1":2.37,"a1":2.19,"n2":2.16,"x2":2.45,"a2":2.26,"n3":2.22,"x3":2.52,"a3":2.32},
{"t":"2019-07-11T17:00Z","n1":2.06,"x1":2.56,"a1":2.16,"n2":2.13,"x2":2.64,"a2":2.23,"n3":2.19,"x3":2.71,"a3":2.29},
{"t":"2019-07-11T17:20Z","n1":2.03,"x1":2.60,"a1":2.12,"n2":2.10,"x2":2.68,"a2":2.19,"n3":2.16,"x3":2.75,"a3":2.25},
{"t":"2019-07-11T17:40Z","n1":2.00,"x1":2.50,"a1":2.09,"n2":2.07,"x2":2.58,"a2":2.16,"n3":2.13,"x3":2.65,"a3":2.22},
{"t":"2019-07-11T18:00Z","n1":1.90,"x1":2.67,"a1":2.00,"n2":1.97,"x2":2.75,"a2":2.07,"n3":2.03,"x3":2.82,"a3":2.13},
{"t":"2019-07-11T18:20Z","n1":1.69,"x1":2.02,"a1":1.78,"n2":1.76,"x2":2.10,"a2":1.85,"n3":1.82,"x3":2.17,"a3":1.91},
{"t":"2019-07-11T18:40Z","n1":1.75,"x1":2.12,"a1":1.85,"n2":1.82,"x2":2.20,"a2":1.92,"n3":1.88,"x3":2.27,"a3":1.98},
{"t":"2019-07-11T19:00Z","n1":1.82,"x1":2.05,"a1":1.92,"n2":1.89,"x2":2.13,"a2":1.99,"n3":1.95,"x3":2.20,"a3":2.05},
{"t":"2019-07-11T19:20Z","n1":1.88,"x1":2.30,"a1":1.98,"n2":1.95,"x2":2.38,"a2":2.05,"n3":2.01,"x3":2.45,"a3":2.11},
{"t":"2019-07-11T19:40Z","n1":1.97,"x1":2.40,"a1":2.08,"n2":2.04,"x2":2.48,"a2":2.15,"n3":2.10,"x3":2.55,"a3":2.21},
{"t":"2019-07-11T20:00Z","n1":1.94,"x1":2.28,"a1":2.03,"n2":2.01,"x2":2.36,"a2":2.10,"n3":2.07,"x3":2.43,"a3":2.16},
{"t":"2019-07-11T20:20Z","n1":1.90,"x1":2.35,"a1":2.00,"n2":1.97,"x2":2.43,"a2":2.07,"n3":2.03,"x3":2.50,"a3":2.13},
{"t":"2019-07-11T20:40Z","n1":1.88,"x1":2.30,"a1":1.99,"n2":1.95,"x2":2.38,"a2":2.06,"n3":2.01,"x3":2.45,"a3":2.12},
{"t":"2019-07-11T21:00Z","n1":1.91,"x1":2.38,"a1":2.02,"n2":1.98,"x2":2.46,"a2":2.09,"n3":2.04,"x3":2.53,"a3":2.15},
{"t":"2019-07-11T21:20Z","n1":1.89,"x1":2.24,"a1":1.99,"n2":1.96,"x2":2.32,"a2":2.06,"n3":2.02,"x3":2.39,"a3":2.12},
{"t":"2019-07-11T21:40Z","n1":1.86,"x1":2.38,"a1":1.96,"n2":1.93,"x2":2.46,"a2":2.03,"n3":1.99,"x3":2.53,"a3":2.09},
{"t":"2019-07-11T22:00Z","n1":1.83,"x1":2.22,"a1":1.93,"n2":1.90,"x2":2.30,"a2":2.00,"n3":1.96,"x3":2.37,"a3":2.06},
{"t":"2019-07-11T22:20Z","n1":1.72,"x1":2.08,"a1":1.82,"n2":1.79,"x2":2.16,"a2":1.89,"n3":1.85,"x3":2.23,"a3":1.95},
{"t":"2019-07-11T22:40Z","n1":1.56,"x1":1.94,"a1":1.66,"n2":1.63,"x2":2.02,"a2":1.73,"n3":1.69,"x3":2.09,"a3":1.79},
{"t":"2019-07-11T23:00Z","n1":1.48,"x1":1.92,"a1":1.58,"n2":1.55,"x2":2.00,"a2":1.65,"n3":1.61,"x3":2.07,"a3":1.71},
{"t":"2019-07-11T23:20Z","n1":1.36,"x1":1.62,"a1":1.46,"n2":1.43,"x2":1.70,"a2":1.53,"n3":1.49,"x3":1.77,"a3":1.59},
{"t":"2019-07-11T23:40Z","n1":1.30,"x1":1.60,"a1":1.40,"n2":1.37,"x2":1.68,"a2":1.47,"n3":1.43,"x3":1.75,"a3":1.53},
{"t":"2019-07-12T00:00Z","n1":1.28,"x1":1.66,"a1":1.38,"n2":1.35,"x2":1.74,"a2":1.45,"n3":1.41,"x3":1.81,"a3":1.51},
{"t":"2019-07-12T00:20Z","n1":1.25,"x1":1.63,"a1":1.34,"n2":1.32,"x2":1.71,"a2":1.41,"n3":1.38,"x3":1.78,"a3":1.47},
{"t":"2019-07-12T00:40Z","n1":1.24,"x1":1.55,"a1":1.34,"n2":1.31,"x2":1.63,"a2":1.41,"n3":1.37,"x3":1.70,"a3":1.47},
{"t":"2019-07-12T01:00Z","n1":1.22,"x1":1.62,"a1":1.32,"n2":1.29,"x2":1.70,"a2":1.39,"n3":1.35,"x3":1.77,"a3":1.45},
{"t":"2019-07-12T01:20Z","n1":1.15,"x1":1.45,"a1":1.25,"n2":1.22,"x2":1.53,"a2":1.32,"n3":1.28,"x3":1.60,"a3":1.38},
{"t":"2019-07-12T01:40Z","n1":1.05,"x1":1.31,"a1":1.15,"n2":1.12,"x2":1.39,"a2":1.22,"n3":1.18,"x3":1.46,"a3":1.28},
{"t":"2019-07-12T02:00Z","n1":0.97,"x1":1.27,"a1":1.06,"n2":1.04,"x2":1.35,"a2":1.13,"n3":1.10,"x3":1.42,"a3":1.19},
{"t":"2019-07-12T02:20Z","n1":0.94,"x1":1.32,"a1":1.03,"n2":1.01,"x2":1.40,"a2":1.10,"n3":1.07,"x3":1.47,"a3":1.16},
{"t":"2019-07-12T02:40Z","n1":0.93,"x1":1.23,"a1":1.02,"n2":1.00,"x2":1.31,"a2":1.09,"n3":1.06,"x3":1.38,"a3":1.15},
{"t":"2019-07-12T03:00Z","n1":0.93,"x1":1.26,"a1":1.02,"n2":1.00,"x2":1.34,"a2":1.09,"n3":1.06,"x3":1.41,"a3":1.15},
{"t":"2019-07-12T03:20Z","n1":0.95,"x1":1.44,"a1":1.04,"n2":1.02,"x2":1.52,"a2":1.11,"n3":1.08,"x3":1.59,"a3":1.17},
{"t":"2019-07-12T03:40Z","n1":0.98,"x1":1.20,"a1":1.10,"n2":1.05,"x2":1.28,"a2":1.17,"n3":1.11,"x3":1.35,"a3":1.23},
{"t":"2019-07-12T04:00Z","n1":0.92,"x1":1.47,"a1":1.09,"n2":0.99,"x2":1.55,"a2":1.16,"n3":1.05,"x3":1.62,"a3":1.22},
{"t":"2019-07-12T04:20Z","n1":0.97,"x1":1.26,"a1":1.05,"n2":1.04,"x2":1.34,"a2":1.12,"n3":1.10,"x3":1.41,"a3":1.18},
{"t":"2019-07-12T04:40Z","n1":0.98,"x1":1.40,"a1":1.05,"n2":1.05,"x2":1.48,"a2":1.12,"n3":1.11,"x3":1.55,"a3":1.18},
{"t":"2019-07-12T05:00Z","n1":1.02,"x1":1.31,"a1":1.11,"n2":1.09,"x2":1.39,"a2":1.18,"n3":1.15,"x3":1.46,"a3":1.24},
{"t":"2019-07-12T05:20Z","n1":1.05,"x1":1.48,"a1":1.13,"n2":1.12,"x2":1.56,"a2":1.20,"n3":1.18,"x3":1.63,"a3":1.26},
{"t":"2019-07-12T05:40Z","n1":1.07,"x1":1.34,"a1":1.14,"n2":1.14,"x2":1.42,"a2":1.21,"n3":1.20,"x3":1.49,"a3":1.27},
{"t":"2019-07-12T06:00Z","n1":1.09,"x1":1.27,"a1":1.16,"n2":1.16,"x2":1.35,"a2":1.23,"n3":1.22,"x3":1.42,"a3":1.29},
{"t":"2019-07-12T06:20Z","n1":1.13,"x1":1.40,"a1":1.23,"n2":1.20,"x2":1.48,"a2":1.30,"n3":1.26,"x3":1.55,"a3":1.36},
{"t":"2019-07-12T06:40Z","n1":1.30,"x1":1.80,"a1":1.45,"n2":1.37,"x2":1.88,"a2":1.52,"n3":1.43,"x3":1.95,"a3":1.58},
{"t":"2019-07-12T07:00Z","n1":1.90,"x1":2.42,"a1":2.05,"n2":1.97,"x2":2.50,"a2":2.12,"n3":2.03,"x3":2.57,"a3":2.18},
{"t":"2019-07-12T07:20Z","n1":2.18,"x1":2.72,"a1":2.33,"n2":2.25,"x2":2.80,"a2":2.40,"n3":2.31,"x3":2.87,"a3":2.46},
{"t":"2019-07-12T07:40Z","n1":1.98,"x1":2.73,"a1":2.29,"n2":2.05,"x2":2.81,"a2":2.36,"n3":2.11,"x3":2.88,"a3":2.42},
{"t":"2019-07-12T08:00Z","n1":1.86,"x1":2.66,"a1":2.18,"n2":1.93,"x2":2.74,"a2":2.25,"n3":1.99,"x3":2.81,"a3":2.31},
{"t":"2019-07-12T08:20Z","n1":1.95,"x1":2.55,"a1":2.03,"n2":2.02,"x2":2.63,"a2":2.10,"n3":2.08,"x3":2.70,"a3":2.16},
{"t":"2019-07-12T08:40Z","n1":1.75,"x1":2.30,"a1":1.85,"n2":1.82,"x2":2.38,"a2":1.92,"n3":1.88,"x3":2.45,"a3":1.98},
{"t":"2019-07-12T09:00Z","n1":1.72,"x1":2.16,"a1":1.81,"n2":1.79,"x2":2.24,"a2":1.88,"n3":1.85,"x3":2.31,"a3":1.94},
{"t":"2019-07-12T09:20Z","n1":1.73,"x1":2.07,"a1":1.82,"n2":1.80,"x2":2.15,"a2":1.89,"n3":1.86,"x3":2.22,"a3":1.95},
{"t":"2019-07-12T09:40Z","n1":1.75,"x1":2.15,"a1":1.85,"n2":1.82,"x2":2.23,"a2":1.92,"n3":1.88,"x3":2.30,"a3":1.98},
{"t":"2019-07-12T10:00Z","n1":1.78,"x1":2.12,"a1":1.88,"n2":1.85,"x2":2.20,"a2":1.95,"n3":1.91,"x3":2.27,"a3":2.01},
{"t":"2019-07-12T10:20Z","n1":1.88,"x1":2.43,"a1":2.00,"n2":1.95,"x2":2.51,"a2":2.07,"n3":2.01,"x3":2.58,"a3":2.13},
{"t":"2019-07-12T10:40Z","n1":1.98,"x1":2.47,"a1":2.10,"n2":2.05,"x2":2.55,"a2":2.17,"n3":2.11,"x3":2.62,"a3":2.23},
{"t":"2019-07-12T11:00Z","n1":2.08,"x1":2.55,"a1":2.22,"n2":2.15,"x2":2.63,"a2":2.29,"n3":2.21,"x3":2.70,"a3":2.35},
{"t":"2019-07-12T11:20Z","n1":2.24,"x1":2.80,"a1":2.31,"n2":2.31,"x2":2.88,"a2":2.38,"n3":2.37,"x3":2.95,"a3":2.44},
{"t":"2019-07-12T11:40Z","n1":2.10,"x1":2.62,"a1":2.24,"n2":2.17,"x2":2.70,"a2":2.31,"n3":2.23,"x3":2.77,"a3":2.37},
{"t":"2019-07-12T12:00Z","n1":1.90,"x1":2.40,"a1":2.15,"n2":1.97,"x2":2.48,"a2":2.22,"n3":2.03,"x3":2.55,"a3":2.28},
{"t":"2019-07-12T12:20Z","n1":1.80,"x1":2.50,"a1":2.11,"n2":1.87,"x2":2.58,"a2":2.18,"n3":1.93,"x3":2.65,"a3":2.24},
{"t":"2019-07-12T12:40Z","n1":1.84,"x1":2.53,"a1":2.12,"n2":1.91,"x2":2.61,"a2":2.19,"n3":1.97,"x3":2.68,"a3":2.25},
{"t":"2019-07-12T13:00Z","n1":1.95,"x1":2.50,"a1":2.14,"n2":2.02,"x2":2.58,"a2":2.21,"n3":2.08,"x3":2.65,"a3":2.27}
]},
"spacing": 3,
"vconcat": [
{
 "width": 865, "height": 155,
 "data": {"values": [{}]},
 "layer": [
  {"mark": {"type": "rule", "strokeWidth": 3, "color": "#111"}, "encoding": {"x": {"datum": 0, "type": "quantitative", "scale": {"domain": [251, 1116], "nice": false, "zero": false}, "axis": null}, "x2": {"datum": 1116}, "y": {"datum": 12, "type": "quantitative", "scale": {"domain": [0, 155], "nice": false, "zero": false, "reverse": true}, "axis": null}}},
  {"mark": {"type": "rule", "strokeWidth": 2, "color": "#111"}, "encoding": {"x": {"datum": 0, "type": "quantitative", "scale": {"domain": [251, 1116], "nice": false, "zero": false}, "axis": null}, "x2": {"datum": 1116}, "y": {"datum": 123, "type": "quantitative", "scale": {"domain": [0, 155], "nice": false, "zero": false, "reverse": true}, "axis": null}}},
  {"mark": {"type": "rule", "strokeWidth": 2, "color": "#111"}, "encoding": {"x": {"datum": 327, "type": "quantitative", "scale": {"domain": [251, 1116], "nice": false, "zero": false}, "axis": null}, "y": {"datum": 12, "type": "quantitative", "scale": {"domain": [0, 155], "nice": false, "zero": false, "reverse": true}, "axis": null}, "y2": {"datum": 123}}},
  {"mark": {"type": "rule", "strokeWidth": 2, "color": "#111"}, "encoding": {"x": {"datum": 757, "type": "quantitative", "scale": {"domain": [251, 1116], "nice": false, "zero": false}, "axis": null}, "y": {"datum": 12, "type": "quantitative", "scale": {"domain": [0, 155], "nice": false, "zero": false, "reverse": true}, "axis": null}, "y2": {"datum": 123}}},
  {"mark": {"type": "rule", "strokeWidth": 1.5, "color": "#111"}, "encoding": {"x": {"datum": 757, "type": "quantitative", "scale": {"domain": [251, 1116], "nice": false, "zero": false}, "axis": null}, "x2": {"datum": 1116}, "y": {"datum": 46, "type": "quantitative", "scale": {"domain": [0, 155], "nice": false, "zero": false, "reverse": true}, "axis": null}}},
  {"mark": {"type": "text", "text": "H\u2009I\u2009O\u2009K\u2009I", "font": "DejaVu Sans", "fontWeight": "bold", "fontSize": 80, "align": "center", "baseline": "alphabetic",
     "fill": {"gradient": "linear", "x1": 0, "y1": 0, "x2": 0, "y2": 1, "stops": [{"offset": 0, "color": "#1f4fa6"}, {"offset": 0.5, "color": "#1f4fa6"}, {"offset": 0.5, "color": "#1ca06c"}, {"offset": 1, "color": "#1ca06c"}]}},
   "encoding": {"x": {"datum": 157, "type": "quantitative", "scale": {"domain": [251, 1116], "nice": false, "zero": false}, "axis": null}, "y": {"datum": 79, "type": "quantitative", "scale": {"domain": [0, 155], "nice": false, "zero": false, "reverse": true}, "axis": null}}},
  {"mark": {"type": "text", "text": "9624-50 PQA-HiVIEW PRO", "fontSize": 21, "color": "#1a1a1a", "align": "center", "baseline": "middle"}, "encoding": {"x": {"datum": 157, "type": "quantitative", "scale": {"domain": [251, 1116], "nice": false, "zero": false}, "axis": null}, "y": {"datum": 106, "type": "quantitative", "scale": {"domain": [0, 155], "nice": false, "zero": false, "reverse": true}, "axis": null}}},
  {"mark": {"type": "text", "text": "Time Plot Graph", "fontSize": 23, "color": "#1a1a1a", "align": "center", "baseline": "middle"}, "encoding": {"x": {"datum": 543, "type": "quantitative", "scale": {"domain": [251, 1116], "nice": false, "zero": false}, "axis": null}, "y": {"datum": 31, "type": "quantitative", "scale": {"domain": [0, 155], "nice": false, "zero": false, "reverse": true}, "axis": null}}},
  {"mark": {"type": "text", "text": "Measurement from a HIOKI 3196 PQA", "fontSize": 23.5, "color": "#1a1a1a", "align": "center", "baseline": "middle"}, "encoding": {"x": {"datum": 544, "type": "quantitative", "scale": {"domain": [251, 1116], "nice": false, "zero": false}, "axis": null}, "y": {"datum": 91, "type": "quantitative", "scale": {"domain": [0, 155], "nice": false, "zero": false, "reverse": true}, "axis": null}}},
  {"mark": {"type": "text", "text": "15/07/2019\u00a0\u00a0\u00a0F:\\B9070901", "fontSize": 19, "color": "#1a1a1a", "align": "left", "baseline": "middle"}, "encoding": {"x": {"datum": 770, "type": "quantitative", "scale": {"domain": [251, 1116], "nice": false, "zero": false}, "axis": null}, "y": {"datum": 29, "type": "quantitative", "scale": {"domain": [0, 155], "nice": false, "zero": false, "reverse": true}, "axis": null}}},
  {"mark": {"type": "text", "text": "2019/07/09 12:15:40 - 2019/07/12 13:15:40", "fontSize": 19, "fontWeight": "bold", "color": "#1a1a1a", "align": "left", "baseline": "middle", "limit": 374, "ellipsis": ""}, "encoding": {"x": {"datum": 742, "type": "quantitative", "scale": {"domain": [251, 1116], "nice": false, "zero": false}, "axis": null}, "y": {"datum": 146, "type": "quantitative", "scale": {"domain": [0, 155], "nice": false, "zero": false, "reverse": true}, "axis": null}}}
 ]
},
{
 "spacing": 14,
 "vconcat": [
  {
   "width": 865, "height": 330,
   "layer": [
    {"layer": [
      {"data": {"name": "grid"}, "mark": {"type": "rule", "color": "#c8c8c8", "strokeWidth": 1.6}, "encoding": {"x": {"field": "t", "type": "temporal"}, "y": {"datum": 0.24, "type": "quantitative"}, "y2": {"datum": 3.74}}},
      {"data": {"name": "pq"}, "transform": [{"fold": ["n1", "x1", "a1"], "as": ["s", "v"]}],
       "mark": {"type": "line", "strokeWidth": 1.8},
       "encoding": {
        "x": {"field": "t", "type": "temporal", "scale": {"type": "utc", "domain": [{"year": 2019, "month": 7, "date": 9, "hours": 12, "minutes": 15, "seconds": 40, "utc": true}, {"year": 2019, "month": 7, "date": 12, "hours": 14, "minutes": 35, "utc": true}]},
          "axis": {"title": null, "grid": false, "ticks": false, "labels": false, "domain": true, "domainColor": "#c8c8c8", "domainWidth": 2}},
        "y": {"field": "v", "type": "quantitative", "scale": {"domain": [0.24, 4.015], "nice": false, "zero": false},
          "axis": {"values": [0.8, 1.6, 2.4, 3.2, 3.74], "labelExpr": "datum.value == 1.6 || datum.value == 3.2 ? format(datum.value, '.2f') : ''", "grid": true, "gridColor": "#c8c8c8", "gridWidth": 1.6, "domain": false, "tickSize": 4, "tickColor": "#9a9a9a", "tickOpacity": {"condition": {"test": "datum.value == 1.6 || datum.value == 3.2", "value": 1}, "value": 0}, "labelFontSize": 15, "labelColor": "#222", "labelPadding": 1,
            "title": ["U-THD[%]", "\u00a0CH1"], "titleAngle": 0, "titleAlign": "left", "titleBaseline": "top", "titleX": -251, "titleY": 137, "titleFontSize": 17, "titleFontWeight": "normal", "titleColor": "#222", "titleLineHeight": 22}},
        "color": {"field": "s", "type": "nominal", "scale": {"domain": ["n1", "x1", "a1"], "range": ["#ff1a1a", "#1a1aff", "#1ec81e"]},
          "legend": {"orient": "none", "legendX": -54, "legendY": -25, "direction": "horizontal", "gridAlign": "all", "title": "0.80 %/div", "titleOrient": "left", "titleAnchor": "middle", "titleBaseline": "middle", "titleFontSize": 15, "titleFontWeight": "normal", "titleColor": "#222", "titlePadding": 10, "labelFontSize": 15, "labelColor": "#222", "labelOffset": 2, "symbolType": "stroke", "symbolSize": 900, "symbolStrokeWidth": 2, "columnPadding": 6,
            "labelExpr": "{'n1': 'CH1 MIN', 'x1': 'CH1 MAX', 'a1': 'CH1 AVG'}[datum.label]"}}
       }}
    ]},
    {"data": {"name": "ev"}, "mark": {"type": "point", "shape": "triangle-down", "filled": true, "size": 70, "opacity": 1},
     "encoding": {"x": {"field": "t", "type": "temporal"}, "y": {"field": "lane", "type": "ordinal", "scale": {"domain": ["upper", "main"], "range": [7, 17], "padding": 0}, "axis": null},
       "color": {"field": "kind", "type": "nominal", "scale": {"domain": ["pink", "black", "blue"], "range": ["#f58fd6", "#111111", "#2222dd"]}, "legend": null}}}
   ],
   "resolve": {"scale": {"y": "independent", "color": "independent"}}
  },
  {
   "width": 865, "height": 330,
   "layer": [
    {"layer": [
      {"data": {"name": "grid"}, "mark": {"type": "rule", "color": "#c8c8c8", "strokeWidth": 1.6}, "encoding": {"x": {"field": "t", "type": "temporal"}, "y": {"datum": 0.24, "type": "quantitative"}, "y2": {"datum": 3.74}}},
      {"data": {"name": "pq"}, "transform": [{"fold": ["n2", "x2", "a2"], "as": ["s", "v"]}],
       "mark": {"type": "line", "strokeWidth": 1.8},
       "encoding": {
        "x": {"field": "t", "type": "temporal", "scale": {"type": "utc", "domain": [{"year": 2019, "month": 7, "date": 9, "hours": 12, "minutes": 15, "seconds": 40, "utc": true}, {"year": 2019, "month": 7, "date": 12, "hours": 14, "minutes": 35, "utc": true}]},
          "axis": {"title": null, "grid": false, "ticks": false, "labels": false, "domain": true, "domainColor": "#c8c8c8", "domainWidth": 2}},
        "y": {"field": "v", "type": "quantitative", "scale": {"domain": [0.24, 4.015], "nice": false, "zero": false},
          "axis": {"values": [0.8, 1.6, 2.4, 3.2, 3.74], "labelExpr": "datum.value == 1.6 || datum.value == 3.2 ? format(datum.value, '.2f') : ''", "grid": true, "gridColor": "#c8c8c8", "gridWidth": 1.6, "domain": false, "tickSize": 4, "tickColor": "#9a9a9a", "tickOpacity": {"condition": {"test": "datum.value == 1.6 || datum.value == 3.2", "value": 1}, "value": 0}, "labelFontSize": 15, "labelColor": "#222", "labelPadding": 1,
            "title": ["U-THD[%]", "\u00a0CH2"], "titleAngle": 0, "titleAlign": "left", "titleBaseline": "top", "titleX": -251, "titleY": 137, "titleFontSize": 17, "titleFontWeight": "normal", "titleColor": "#222", "titleLineHeight": 22}},
        "color": {"field": "s", "type": "nominal", "scale": {"domain": ["n2", "x2", "a2"], "range": ["#ff1a1a", "#1a1aff", "#1ec81e"]},
          "legend": {"orient": "none", "legendX": -54, "legendY": -25, "direction": "horizontal", "gridAlign": "all", "title": "0.80 %/div", "titleOrient": "left", "titleAnchor": "middle", "titleBaseline": "middle", "titleFontSize": 15, "titleFontWeight": "normal", "titleColor": "#222", "titlePadding": 10, "labelFontSize": 15, "labelColor": "#222", "labelOffset": 2, "symbolType": "stroke", "symbolSize": 900, "symbolStrokeWidth": 2, "columnPadding": 6,
            "labelExpr": "{'n2': 'CH2 MIN', 'x2': 'CH2 MAX', 'a2': 'CH2 AVG'}[datum.label]"}}
       }}
    ]},
    {"data": {"name": "ev"}, "mark": {"type": "point", "shape": "triangle-down", "filled": true, "size": 70, "opacity": 1},
     "encoding": {"x": {"field": "t", "type": "temporal"}, "y": {"field": "lane", "type": "ordinal", "scale": {"domain": ["upper", "main"], "range": [7, 17], "padding": 0}, "axis": null},
       "color": {"field": "kind", "type": "nominal", "scale": {"domain": ["pink", "black", "blue"], "range": ["#f58fd6", "#111111", "#2222dd"]}, "legend": null}}}
   ],
   "resolve": {"scale": {"y": "independent", "color": "independent"}}
  },
  {
   "width": 865, "height": 330,
   "layer": [
    {"layer": [
      {"data": {"name": "grid"}, "mark": {"type": "rule", "color": "#c8c8c8", "strokeWidth": 1.6}, "encoding": {"x": {"field": "t", "type": "temporal"}, "y": {"datum": 0.24, "type": "quantitative"}, "y2": {"datum": 3.74}}},
      {"data": {"name": "pq"}, "transform": [{"fold": ["n3", "x3", "a3"], "as": ["s", "v"]}],
       "mark": {"type": "line", "strokeWidth": 1.8},
       "encoding": {
        "x": {"field": "t", "type": "temporal", "scale": {"type": "utc", "domain": [{"year": 2019, "month": 7, "date": 9, "hours": 12, "minutes": 15, "seconds": 40, "utc": true}, {"year": 2019, "month": 7, "date": 12, "hours": 14, "minutes": 35, "utc": true}]},
          "axis": {"title": null, "grid": false, "ticks": false, "labels": true, "domain": true, "domainColor": "#c8c8c8", "domainWidth": 2,
            "values": [{"year": 2019, "month": 7, "date": 9, "hours": 15, "utc": true}, {"year": 2019, "month": 7, "date": 9, "hours": 22, "minutes": 30, "utc": true}, {"year": 2019, "month": 7, "date": 10, "hours": 6, "utc": true}, {"year": 2019, "month": 7, "date": 10, "hours": 13, "minutes": 30, "utc": true}, {"year": 2019, "month": 7, "date": 10, "hours": 21, "utc": true}, {"year": 2019, "month": 7, "date": 11, "hours": 4, "minutes": 30, "utc": true}, {"year": 2019, "month": 7, "date": 11, "hours": 12, "utc": true}, {"year": 2019, "month": 7, "date": 11, "hours": 19, "minutes": 30, "utc": true}, {"year": 2019, "month": 7, "date": 12, "hours": 3, "utc": true}, {"year": 2019, "month": 7, "date": 12, "hours": 10, "minutes": 30, "utc": true}],
            "labelExpr": "[utcFormat(datum.value, '%m/%d'), utcFormat(datum.value, '%H:%M:%S')]", "labelFontSize": 14, "labelLineHeight": 19, "labelPadding": 2, "labelColor": "#222", "labelOverlap": false, "labelFlush": false}},
        "y": {"field": "v", "type": "quantitative", "scale": {"domain": [0.24, 4.015], "nice": false, "zero": false},
          "axis": {"values": [0.8, 1.6, 2.4, 3.2, 3.74], "labelExpr": "datum.value == 1.6 || datum.value == 3.2 ? format(datum.value, '.2f') : ''", "grid": true, "gridColor": "#c8c8c8", "gridWidth": 1.6, "domain": false, "tickSize": 4, "tickColor": "#9a9a9a", "tickOpacity": {"condition": {"test": "datum.value == 1.6 || datum.value == 3.2", "value": 1}, "value": 0}, "labelFontSize": 15, "labelColor": "#222", "labelPadding": 1,
            "title": ["U-THD[%]", "\u00a0CH3"], "titleAngle": 0, "titleAlign": "left", "titleBaseline": "top", "titleX": -251, "titleY": 137, "titleFontSize": 17, "titleFontWeight": "normal", "titleColor": "#222", "titleLineHeight": 22}},
        "color": {"field": "s", "type": "nominal", "scale": {"domain": ["n3", "x3", "a3"], "range": ["#ff1a1a", "#1a1aff", "#1ec81e"]},
          "legend": {"orient": "none", "legendX": -54, "legendY": -25, "direction": "horizontal", "gridAlign": "all", "title": "0.80 %/div", "titleOrient": "left", "titleAnchor": "middle", "titleBaseline": "middle", "titleFontSize": 15, "titleFontWeight": "normal", "titleColor": "#222", "titlePadding": 10, "labelFontSize": 15, "labelColor": "#222", "labelOffset": 2, "symbolType": "stroke", "symbolSize": 900, "symbolStrokeWidth": 2, "columnPadding": 6,
            "labelExpr": "{'n3': 'CH3 MIN', 'x3': 'CH3 MAX', 'a3': 'CH3 AVG'}[datum.label]"}}
       }}
    ]},
    {"data": {"name": "ev"}, "mark": {"type": "point", "shape": "triangle-down", "filled": true, "size": 70, "opacity": 1},
     "encoding": {"x": {"field": "t", "type": "temporal"}, "y": {"field": "lane", "type": "ordinal", "scale": {"domain": ["upper", "main"], "range": [7, 17], "padding": 0}, "axis": null},
       "color": {"field": "kind", "type": "nominal", "scale": {"domain": ["pink", "black", "blue"], "range": ["#f58fd6", "#111111", "#2222dd"]}, "legend": null}}}
   ],
   "resolve": {"scale": {"y": "independent", "color": "independent"}}
  }
 ]
}
]
}
